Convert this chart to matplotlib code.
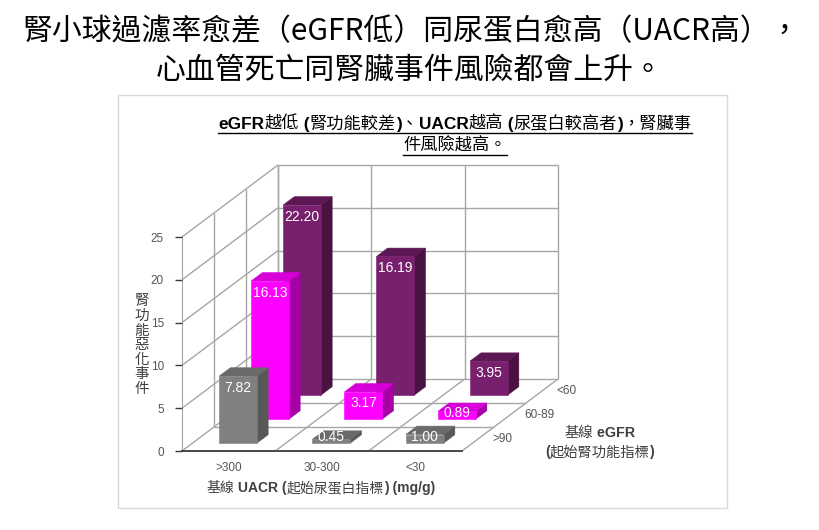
import matplotlib
matplotlib.use('Agg')
import matplotlib.pyplot as plt
from matplotlib.patches import Polygon, Rectangle
from matplotlib.lines import Line2D

# ---------------- data ----------------
uacr_labels = ['>300', '30-300', '<30']          # x categories (front -> right)
egfr_labels = ['>90', '60-89', '<60']            # depth series (front -> back)
vals_gt90 = [7.82, 0.45, 1.00]
vals_60_89 = [16.13, 3.17, 0.89]
vals_lt60 = [22.20, 16.19, 3.95]
series_vals = [vals_gt90, vals_60_89, vals_lt60]
y_ticks = [0, 5, 10, 15, 20, 25]

main_title_1 = '腎小球過濾率愈差（eGFR低）同尿蛋白愈高（UACR高），'
main_title_2 = '心血管死亡同腎臟事件風險都會上升。'
chart_title_1 = 'eGFR越低 (腎功能較差)、UACR越高 (尿蛋白較高者)，腎臟事'
chart_title_2 = '件風險越高。'
x_title = '基線 UACR (起始尿蛋白指標) (mg/g)'
z_title_1 = '基線 eGFR'
z_title_2 = '(起始腎功能指標)'
y_title = '腎功能惡化事件'

# ---------------- style ----------------
face_cols = [('#808080', '#585858', '#6a6a6a'),
             ('#ff00ff', '#a600a6', '#d800d8'),
             ('#781f6d', '#4a1243', '#5c1754')]
grid_col = '#a6a6a6'
CJK = 'Noto Sans CJK TC'
LAT = 'Liberation Sans'

W, H = 820, 530
fig = plt.figure(figsize=(W / 100, H / 100), dpi=100)
fig.patch.set_facecolor('white')


def fx(px):
    return px / W


def fy(py):
    return 1 - py / H


# chart frame
fig.add_artist(Rectangle((fx(118), fy(508)), fx(727) - fx(118), fy(95) - fy(508),
                         transform=fig.transFigure, fill=False,
                         edgecolor='#d9d9d9', lw=1.0))

# front plane axes
L, R, T, B = 182, 462, 237, 451
ax = fig.add_axes([fx(L), fy(B), (R - L) / W, (B - T) / H])
ax.set_xlim(0, 3)
ax.set_ylim(0, 25)
ax.set_facecolor('none')
for s in ('top', 'right'):
    ax.spines[s].set_visible(False)
ax.spines['left'].set_color(grid_col)
ax.spines['bottom'].set_color('#3a3a3a')
ax.spines['bottom'].set_linewidth(1.3)
ax.spines['left'].set_zorder(0.5)

ax.set_yticks(y_ticks)
ax.set_yticklabels([str(v) for v in y_ticks], family=LAT)
ax.tick_params(axis='y', direction='out', length=5, width=1, color='#3a3a3a',
               labelcolor='#555555', labelsize=8.5, pad=8)
ax.set_xticks([0.5, 1.5, 2.5])
ax.set_xticklabels(uacr_labels, family=LAT)
ax.tick_params(axis='x', length=0, labelcolor='#555555', labelsize=8.5, pad=8)

# oblique depth per slot (data units)
DX = 32 / ((R - L) / 3)
DZ = 24 / ((B - T) / 25)
NS = 3


def P(x, z, d):
    return (x + d * DX, z + d * DZ)


def line(pts, **kw):
    xs = [p[0] for p in pts]
    ys = [p[1] for p in pts]
    ax.add_line(Line2D(xs, ys, color=kw.get('color', grid_col), lw=kw.get('lw', 1.0),
                       zorder=kw.get('zorder', 1), clip_on=False,
                       solid_capstyle='butt'))


zmax = y_ticks[-1]
# back wall
for i in range(4):
    line([P(i, 0, NS), P(i, zmax, NS)])
for z in y_ticks:
    line([P(0, z, NS), P(3, z, NS)])
# left wall
for d in range(1, NS + 1):
    line([P(0, 0, d), P(0, zmax, d)])
for z in y_ticks:
    line([P(0, z, 0), P(0, z, NS)])
# floor
for d in range(1, NS):
    line([P(0, 0, d), P(3, 0, d)])
for i in range(1, 4):
    line([P(i, 0, 0), P(i, 0, NS)])

# bars (painter's order: back row first)
bx0, bx1 = 0.285, 0.69
bd0, bd1 = 0.33, 0.68
zo = 3
for j in reversed(range(NS)):
    fc, sc, tc = face_cols[j]
    for i, v in enumerate(series_vals[j]):
        x0, x1 = i + bx0, i + bx1
        d0, d1 = j + bd0, j + bd1
        front = [P(x0, 0, d0), P(x1, 0, d0), P(x1, v, d0), P(x0, v, d0)]
        side = [P(x1, 0, d0), P(x1, 0, d1), P(x1, v, d1), P(x1, v, d0)]
        top = [P(x0, v, d0), P(x1, v, d0), P(x1, v, d1), P(x0, v, d1)]
        for poly, c in ((side, sc), (top, tc), (front, fc)):
            ax.add_patch(Polygon(poly, closed=True, facecolor=c, edgecolor=c,
                                 lw=0.4, zorder=zo, clip_on=False))
        zl = max(v - 11.5 / ((B - T) / 25), 6 / ((B - T) / 25))
        lx, ly = P((x0 + x1) / 2, zl, d0)
        ax.text(lx, ly, f'{v:.2f}', ha='center', va='center', color='white',
                family=LAT, fontsize=10, zorder=zo + 0.5, clip_on=False)
        zo += 1

# depth (eGFR) category labels
for j, lab in enumerate(egfr_labels):
    ax.annotate(lab, xy=P(3, 0, j + 0.5), xytext=(10.5, 0), textcoords='offset points',
                ha='left', va='center', fontsize=8.5, color='#555555', family=LAT,
                annotation_clip=False)

# ---------------- text helpers ----------------
renderer = fig.canvas.get_renderer()


def runs_of(text):
    runs = []
    for ch in text:
        lat = ord(ch) < 128
        if runs and runs[-1][0] == lat:
            runs[-1][1] += ch
        else:
            runs.append([lat, ch])
    return runs


def rich(cx, base_y, text, size, color='#000000', underline=False, ul_off=4):
    arts = []
    total = 0
    for lat, s in runs_of(text):
        if lat:
            t = fig.text(0, 0, s, fontsize=size, family=[LAT, CJK], weight='bold',
                         color=color, ha='left', va='baseline')
        else:
            t = fig.text(0, 0, s, fontsize=size, family=[CJK], weight='normal',
                         color=color, ha='left', va='baseline')
        w = t.get_window_extent(renderer).width
        arts.append((t, w))
        total += w
    x = cx - total / 2
    for t, w in arts:
        t.set_position((fx(x), fy(base_y)))
        x += w
    if underline:
        fig.add_artist(Line2D([fx(cx - total / 2), fx(cx + total / 2)],
                              [fy(base_y + ul_off)] * 2, transform=fig.transFigure,
                              color=color, lw=1.0))


# main title
fig.text(fx(411), fy(32), main_title_1, fontsize=21.5, family=[CJK], weight='light',
         ha='center', va='center', color='#000000')
fig.text(fx(410), fy(70), main_title_2, fontsize=21.5, family=[CJK], weight='light',
         ha='center', va='center', color='#000000')

# chart title
rich(455, 129, chart_title_1, 12.4, underline=True)
rich(455, 151, chart_title_2, 12.4, underline=True)

# axis titles
rich(321, 492, x_title, 10.0, color='#404040')
rich(600, 437, z_title_1, 10.3, color='#404040')
rich(600, 456, z_title_2, 10.3, color='#404040')
fig.text(fx(142), fy(345), '\n'.join(y_title), fontsize=10.5, family=[CJK],
         ha='center', va='center', color='#404040', linespacing=1.05)

fig.savefig('out.png', dpi=100)
